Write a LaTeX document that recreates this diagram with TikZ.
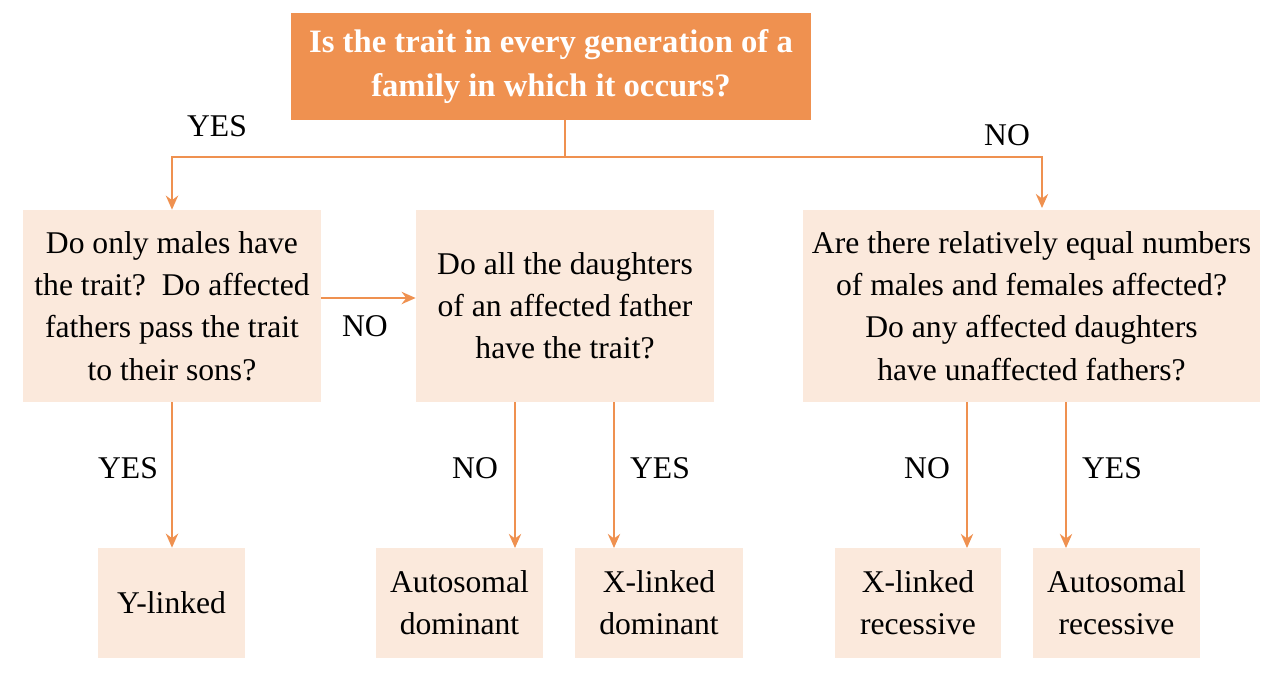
\documentclass[tikz,border=0pt]{standalone}
\usepackage{fontspec}
\setmainfont{Liberation Serif}
\usetikzlibrary{arrows.meta}
\definecolor{org}{HTML}{EF9150}
\definecolor{pale}{HTML}{FBE9DC}
\begin{document}
\begin{tikzpicture}[x=0.02cm,y=-0.02cm,
 box/.style={fill=pale,draw=none,align=center,font=\fontsize{18}{24}\selectfont,inner sep=0},
 arr/.style={draw=org,line width=1.1pt,-{Stealth[length=8pt,width=7pt]}},
 ln/.style={draw=org,line width=1.1pt},
 lab/.style={font=\fontsize{18}{20}\selectfont}]
\useasboundingbox (0,0) rectangle (1278,684);
\node[fill=org,minimum width=10.4cm,minimum height=2.14cm,align=center,text=white,font=\bfseries\fontsize{18.6}{24.5}\selectfont] (top) at (551,66.5) {Is the trait in every generation of a\\family in which it occurs?};
\node[box,minimum width=5.96cm,minimum height=3.84cm] (b1) at (172,306) {Do only males have\\the trait?\ \ Do affected\\fathers pass the trait\\to their sons?};
\node[box,minimum width=5.96cm,minimum height=3.84cm] (b2) at (565,306) {Do all the daughters\\of an affected father\\have the trait?};
\node[box,minimum width=9.14cm,minimum height=3.84cm] (b3) at (1031.5,306) {Are there relatively equal numbers\\of males and females affected?\\Do any affected daughters\\have unaffected fathers?};
\node[box,minimum width=2.94cm,minimum height=2.2cm] (y) at (171.5,603) {Y-linked};
\node[box,minimum width=3.34cm,minimum height=2.2cm] (ad) at (459.5,603) {Autosomal\\dominant};
\node[box,minimum width=3.36cm,minimum height=2.2cm] (xd) at (659,603) {X-linked\\dominant};
\node[box,minimum width=3.32cm,minimum height=2.2cm] (xr) at (918,603) {X-linked\\recessive};
\node[box,minimum width=3.34cm,minimum height=2.2cm] (ar) at (1116.5,603) {Autosomal\\recessive};
\coordinate (j) at (565,157);
\draw[ln] (top.south -| j) -- (j);
\draw[arr] (j) -| (b1.north);
\draw[arr] (j) -| (1042,208);
\draw[arr] (b1.east |- 0,298) -- (b2.west |- 0,298);
\draw[arr] (b1.south) -- (b1.south |- y.north);
\draw[arr] (515,402) -- (515,548);
\draw[arr] (614,402) -- (614,548);
\draw[arr] (967,402) -- (967,548);
\draw[arr] (1066,402) -- (1066,548);
\node[lab] (l1) at (217,126) {YES};
\node[lab] (l2) at (1007,135) {NO};
\node[lab] (l3) at (365,326) {NO};
\node[lab] (l4) at (128,468) {YES};
\node[lab] (l5) at (475,468) {NO};
\node[lab] (l6) at (660,468) {YES};
\node[lab] (l7) at (927,468) {NO};
\node[lab] (l8) at (1112,468) {YES};
\end{tikzpicture}
\end{document}
